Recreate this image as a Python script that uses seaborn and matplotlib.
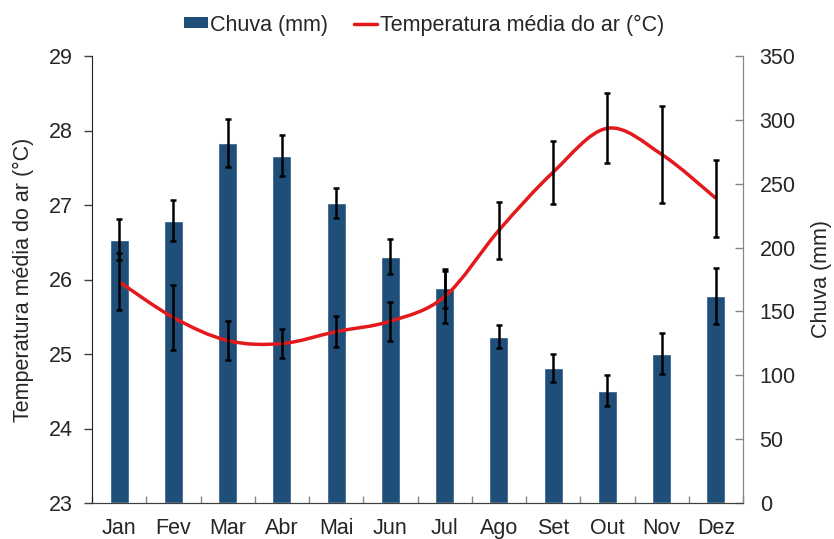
import numpy as np
import pandas as pd
import matplotlib
matplotlib.use("Agg")
import matplotlib.pyplot as plt
from matplotlib.path import Path
from matplotlib.patches import PathPatch, Patch
from matplotlib.lines import Line2D
import seaborn as sns

months = ["Jan", "Fev", "Mar", "Abr", "Mai", "Jun", "Jul", "Ago", "Set", "Out", "Nov", "Dez"]
rain = [206, 221, 282, 272, 235, 193, 168, 130, 106, 88, 117, 162]
rain_err = [16, 16, 19, 16, 12, 14, 15, 9, 11, 12, 16, 22]
temp = [25.97, 25.49, 25.18, 25.14, 25.30, 25.44, 25.77, 26.66, 27.44, 28.03, 27.68, 27.09]
temp_err = [0.38, 0.43, 0.26, 0.20, 0.21, 0.26, 0.35, 0.38, 0.42, 0.47, 0.65, 0.52]
temp_ticks = [23, 24, 25, 26, 27, 28, 29]
rain_ticks = [0, 50, 100, 150, 200, 250, 300, 350]

sns.set_style("white")
plt.rcParams["font.family"] = ["Liberation Sans", "DejaVu Sans"]
FS = 15.5
plt.rcParams["font.size"] = FS

BAR = "#1F4E79"
RED = "#E3191C"

df = pd.DataFrame({"mes": months, "chuva": rain})

fig = plt.figure(figsize=(8.34, 5.39), dpi=100)
ax_r = fig.add_axes([92 / 834, 1 - 503 / 539, (743 - 92) / 834, (503 - 56) / 539])
ax_t = ax_r.twinx()

sns.barplot(data=df, x="mes", y="chuva", color=BAR, saturation=1, width=0.35,
            errorbar=None, ax=ax_r, zorder=1)
ax_r.set_xlim(-0.5, 11.5)
ax_r.set_ylim(0, 350)
ax_r.set_yticks(rain_ticks)
ax_r.yaxis.tick_right()
ax_r.yaxis.set_label_position("right")
ax_r.set_ylabel("Chuva (mm)", fontsize=FS, va="center")
ax_r.yaxis.set_label_coords((821 - 92) / 651, 0.5)
ax_r.set_xlabel("")
ax_r.tick_params(axis="y", direction="in", length=6, width=1, color="#868686",
                 pad=12, labelsize=FS, right=True, left=False,
                 labelright=True, labelleft=False)
ax_r.set_xticks(range(12))
ax_r.set_xticklabels(months)
ax_r.set_xticks(np.arange(-0.5, 12, 1), minor=True)
ax_r.tick_params(axis="x", which="major", length=0, pad=10.5, labelsize=FS)
ax_r.tick_params(axis="x", which="minor", direction="in", length=5, width=1,
                 color="#868686", bottom=True)

ax_t.yaxis.tick_left()
ax_t.yaxis.set_label_position("left")
ax_t.set_ylim(23, 29)
ax_t.set_yticks(temp_ticks)
ax_t.tick_params(axis="y", direction="out", length=6, width=1, color="#404040",
                 pad=8, labelsize=FS, left=True, right=False,
                 labelleft=True, labelright=False)
ax_t.set_ylabel("Temperatura média do ar (°C)", fontsize=FS, va="center")
ax_t.yaxis.set_label_coords((23 - 92) / 651, 0.5)

# smoothed temperature line (Catmull-Rom Bezier through the data points)
x = np.arange(len(temp), dtype=float)
y = np.asarray(temp, dtype=float)
px = np.concatenate([[x[0]], x, [x[-1]]])
py = np.concatenate([[y[0]], y, [y[-1]]])
verts = [(x[0], y[0])]
codes = [Path.MOVETO]
for i in range(len(x) - 1):
    j = i + 1
    c1 = (px[j] + (px[j + 1] - px[j - 1]) / 6, py[j] + (py[j + 1] - py[j - 1]) / 6)
    c2 = (px[j + 1] - (px[j + 2] - px[j]) / 6, py[j + 1] - (py[j + 2] - py[j]) / 6)
    verts += [c1, c2, (x[j], y[j])]
    codes += [Path.CURVE4] * 3
ax_t.add_patch(PathPatch(Path(verts, codes), fill=False, edgecolor=RED,
                         lw=2.5, zorder=2, transform=ax_t.transData))

ax_t.errorbar(x, temp, yerr=temp_err, fmt="none", ecolor="black",
              elinewidth=1.8, capsize=2.5, capthick=1.8, zorder=3)
ax_t.errorbar(x, rain, yerr=rain_err, fmt="none", ecolor="black",
              elinewidth=1.8, capsize=2.5, capthick=1.8, zorder=3,
              transform=ax_r.transData)
ax_t.set_ylim(23, 29)
ax_t.set_xlim(-0.5, 11.5)

for a in (ax_r, ax_t):
    a.spines["top"].set_visible(False)
    a.grid(False)
ax_t.spines["left"].set_color("#202020")
ax_t.spines["right"].set_color("#868686")
ax_t.spines["bottom"].set_color("#404040")
ax_r.spines["left"].set_visible(False)
ax_r.spines["right"].set_color("#868686")
ax_r.spines["bottom"].set_color("#404040")

handles = [Patch(facecolor=BAR, edgecolor="none"),
           Line2D([0], [0], color=RED, lw=2.5)]
fig.legend(handles, ["Chuva (mm)", "Temperatura média do ar (°C)"],
           loc="center", bbox_to_anchor=(424 / 834, 1 - 25 / 539), ncol=2,
           frameon=False, fontsize=FS, handlelength=1.1, handleheight=0.4,
           handletextpad=0.1, columnspacing=1.2, borderpad=0.2)

fig.savefig("out.png", dpi=100)
